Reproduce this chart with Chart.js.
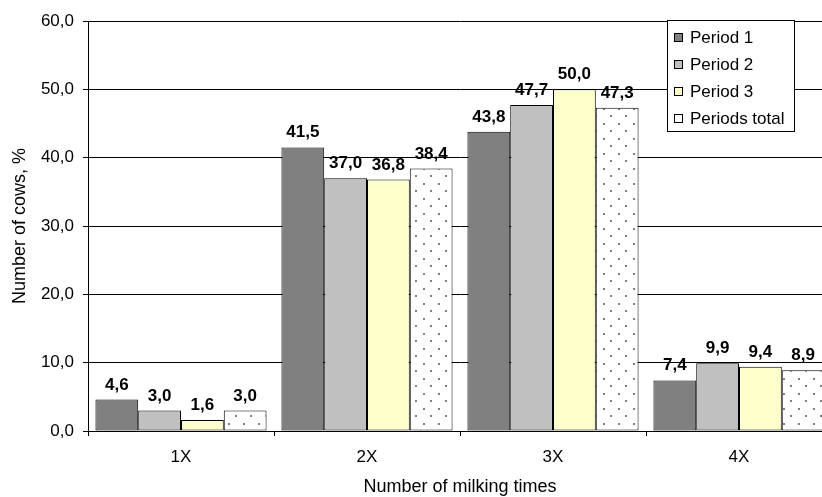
<!DOCTYPE html>
<html>
<head>
<meta charset="utf-8">
<script src="https://cdn.jsdelivr.net/npm/chart.js@4.4.1/dist/chart.umd.min.js"></script>
<style>
  html, body { margin: 0; padding: 0; background: #fff; overflow: hidden; }
  #wrap { width: 840px; height: 500px; position: relative; }
</style>
</head>
<body>
<div id="wrap"><canvas id="chart"></canvas></div>
<script>
/* Milking times per cow — grouped bars by period */

const FONT = '"Liberation Sans", Arial, sans-serif';

const categories = ['1X', '2X', '3X', '4X'];
const seriesNames = ['Period 1', 'Period 2', 'Period 3', 'Periods total'];
const period1 = [4.6, 41.5, 43.8, 7.4];
const period2 = [3.0, 37.0, 47.7, 9.9];
const period3 = [1.6, 36.8, 50.0, 9.4];
const periodsTotal = [3.0, 38.4, 47.3, 8.9];
const yTicks = [0, 10, 20, 30, 40, 50, 60];

const fmt = (v) => v.toFixed(1).replace('.', ',');

// dotted fill for the total series
function dotPattern() {
  const c = document.createElement('canvas');
  c.width = 15;
  c.height = 15;
  const g = c.getContext('2d');
  g.fillStyle = '#fff';
  g.fillRect(0, 0, 15, 15);
  g.fillStyle = '#808080';
  g.fillRect(3, 3, 2, 2);
  g.fillRect(10, 10, 2, 2);
  return g.createPattern(c, 'repeat');
}

const valueLabels = {
  id: 'valueLabels',
  afterDatasetsDraw(chart) {
    const { ctx } = chart;
    ctx.save();
    ctx.font = `bold 17px ${FONT}`;
    ctx.fillStyle = '#000';
    ctx.textAlign = 'center';
    ctx.textBaseline = 'alphabetic';
    chart.data.datasets.forEach((ds, i) => {
      chart.getDatasetMeta(i).data.forEach((bar, j) => {
        ctx.fillText(fmt(ds.data[j]), bar.x, bar.y - 10);
      });
    });
    ctx.restore();
  },
};

const boxedLegend = {
  id: 'boxedLegend',
  afterDraw(chart) {
    const { ctx } = chart;
    const x = 667, y = 20, w = 127, h = 111;
    ctx.save();
    ctx.fillStyle = '#fff';
    ctx.fillRect(x, y, w, h);
    ctx.strokeStyle = '#000';
    ctx.lineWidth = 1;
    ctx.strokeRect(x + 0.5, y + 0.5, w, h);
    ctx.font = `17px ${FONT}`;
    ctx.textBaseline = 'middle';
    ctx.textAlign = 'left';
    chart.data.datasets.forEach((ds, i) => {
      const cy = 37 + i * 27;
      ctx.fillStyle = ds.backgroundColor;
      ctx.fillRect(674, cy - 4, 9, 9);
      ctx.strokeRect(674.5, cy - 3.5, 8, 8);
      ctx.fillStyle = '#000';
      ctx.fillText(ds.label, 690, cy + 1);
    });
    ctx.restore();
  },
};

const fills = ['#808080', '#C0C0C0', '#FFFFCC', dotPattern()];
const values = [period1, period2, period3, periodsTotal];

new Chart(document.getElementById('chart'), {
  type: 'bar',
  data: {
    labels: categories,
    datasets: seriesNames.map((name, i) => ({
      label: name,
      data: values[i],
      backgroundColor: fills[i],
      borderColor: '#000',
      borderWidth: 1,
      borderSkipped: false,
      categoryPercentage: 0.92,
      barPercentage: 1.0,
    })),
  },
  options: {
    responsive: true,
    maintainAspectRatio: false,
    animation: false,
    layout: { padding: { top: 21, right: 8, left: 0, bottom: 0 } },
    plugins: {
      legend: { display: false },
      tooltip: { enabled: false },
    },
    scales: {
      x: {
        grid: {
          offset: true,
          drawOnChartArea: false,
          drawTicks: true,
          tickLength: 5,
          color: '#000',
        },
        border: { display: true, color: '#000' },
        ticks: { font: { family: FONT, size: 17 }, color: '#000', padding: 11 },
        title: {
          display: true,
          text: 'Number of milking times',
          font: { family: FONT, size: 18 },
          color: '#000',
          padding: { top: 0, bottom: 2 },
        },
        afterFit(scale) { scale.height = 69; },
      },
      y: {
        min: 0,
        max: 60,
        afterBuildTicks(scale) { scale.ticks = yTicks.map((v) => ({ value: v })); },
        grid: { color: '#000', tickLength: 5, tickColor: '#000' },
        border: { display: true, color: '#000' },
        ticks: {
          font: { family: FONT, size: 17 },
          color: '#000',
          padding: 9,
          callback: (v) => fmt(v),
        },
        title: {
          display: true,
          text: 'Number of cows, %',
          font: { family: FONT, size: 18 },
          color: '#000',
          padding: { top: 9, bottom: 0 },
        },
        afterFit(scale) { scale.width = 88; },
      },
    },
  },
  plugins: [valueLabels, boxedLegend],
});
</script>
</body>
</html>
